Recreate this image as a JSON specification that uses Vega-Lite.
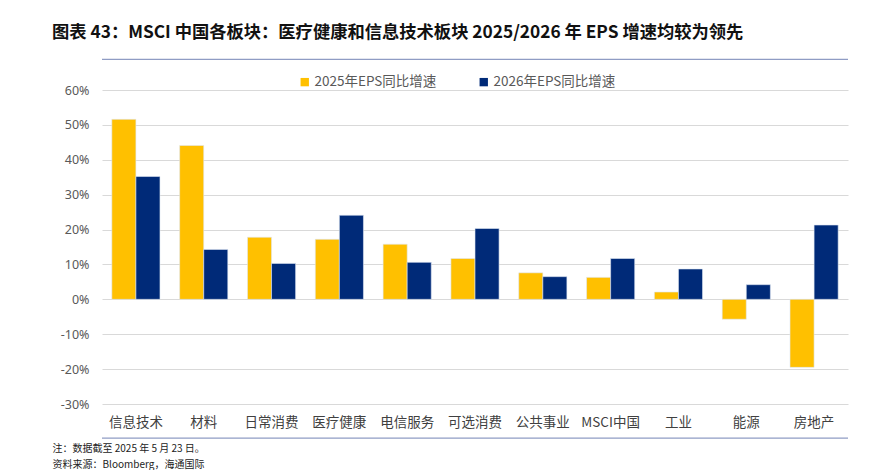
{
  "$schema": "https://vega.github.io/schema/vega-lite/v6.json",
  "width": 746,
  "height": 314,
  "autosize": "none",
  "padding": {"left": 102, "top": 90, "right": 23, "bottom": 66},
  "background": "white",
  "config": {
    "font": "Noto Sans CJK SC",
    "view": {"stroke": null}
  },
  "title": {
    "text": "图表 43：MSCI 中国各板块：医疗健康和信息技术板块 2025/2026 年 EPS 增速均较为领先",
    "anchor": "start",
    "frame": "group",
    "dx": -50,
    "offset": 17,
    "fontSize": 17.3,
    "fontWeight": "bold",
    "color": "#111111",
    "font": "Noto Sans CJK SC"
  },
  "datasets": {
    "eps": [
      {"sector": "信息技术", "series": "2025年EPS同比增速", "value": 0.516},
      {"sector": "信息技术", "series": "2026年EPS同比增速", "value": 0.352},
      {"sector": "材料", "series": "2025年EPS同比增速", "value": 0.441},
      {"sector": "材料", "series": "2026年EPS同比增速", "value": 0.143},
      {"sector": "日常消费", "series": "2025年EPS同比增速", "value": 0.178},
      {"sector": "日常消费", "series": "2026年EPS同比增速", "value": 0.103},
      {"sector": "医疗健康", "series": "2025年EPS同比增速", "value": 0.172},
      {"sector": "医疗健康", "series": "2026年EPS同比增速", "value": 0.241},
      {"sector": "电信服务", "series": "2025年EPS同比增速", "value": 0.158},
      {"sector": "电信服务", "series": "2026年EPS同比增速", "value": 0.106},
      {"sector": "可选消费", "series": "2025年EPS同比增速", "value": 0.117},
      {"sector": "可选消费", "series": "2026年EPS同比增速", "value": 0.203},
      {"sector": "公共事业", "series": "2025年EPS同比增速", "value": 0.076},
      {"sector": "公共事业", "series": "2026年EPS同比增速", "value": 0.065},
      {"sector": "MSCI中国", "series": "2025年EPS同比增速", "value": 0.063},
      {"sector": "MSCI中国", "series": "2026年EPS同比增速", "value": 0.117},
      {"sector": "工业", "series": "2025年EPS同比增速", "value": 0.021},
      {"sector": "工业", "series": "2026年EPS同比增速", "value": 0.087},
      {"sector": "能源", "series": "2025年EPS同比增速", "value": -0.057},
      {"sector": "能源", "series": "2026年EPS同比增速", "value": 0.042},
      {"sector": "房地产", "series": "2025年EPS同比增速", "value": -0.195},
      {"sector": "房地产", "series": "2026年EPS同比增速", "value": 0.213}
    ],
    "lines": [
      {"pos": 0.688},
      {"pos": -0.398}
    ]
  },
  "resolve": {"scale": {"y": "independent"}, "axis": {"y": "independent"}},
  "layer": [
    {
      "data": {"name": "eps"},
      "mark": {"type": "bar", "stroke": "#dfe7f3", "strokeWidth": 0.6},
      "encoding": {
        "x": {
          "field": "sector",
          "type": "nominal",
          "sort": null,
          "scale": {"paddingInner": 0.29, "paddingOuter": 0.145},
          "axis": {
            "title": ["注：数据截至 2025 年 5 月 23 日。", "资料来源：Bloomberg，海通国际"],
            "titleAnchor": "start",
            "titleAlign": "left",
            "titleX": -50,
            "titleY": 39,
            "titleFontSize": 10,
            "titleFontWeight": "normal",
            "titleColor": "#222222",
            "titleLineHeight": 16,
            "labelAngle": 0,
            "labelFontSize": 13.5,
            "labelColor": "#404040",
            "labelPadding": 11,
            "domain": false,
            "ticks": false
          }
        },
        "xOffset": {"field": "series", "type": "nominal", "sort": null},
        "y": {
          "field": "value",
          "type": "quantitative",
          "scale": {"domain": [-0.3, 0.6], "nice": false, "zero": false},
          "axis": {
            "title": null,
            "format": ".0%",
            "labelExpr": "replace(datum.label, '−', '-')",
            "values": [-0.3, -0.2, -0.1, 0, 0.1, 0.2, 0.3, 0.4, 0.5, 0.6],
            "labelOverlap": false,
            "labelFontSize": 12.5,
            "labelColor": "#595959",
            "labelPadding": 13,
            "labelFont": "Noto Sans",
            "domain": false,
            "ticks": false,
            "gridColor": "#d9d9d9",
            "gridWidth": 1
          }
        },
        "color": {
          "field": "series",
          "type": "nominal",
          "sort": null,
          "scale": {"range": ["#ffc000", "#002a78"]},
          "legend": {
            "title": null,
            "orient": "none",
            "direction": "horizontal",
            "legendX": 196,
            "legendY": -15,
            "symbolType": "square",
            "symbolSize": 70,
            "symbolStrokeWidth": 0,
            "labelFontSize": 13.5,
            "labelColor": "#595959",
            "columnPadding": 40,
            "labelOffset": 3
          }
        }
      }
    },
    {
      "data": {"name": "lines"},
      "mark": {"type": "rule", "color": "#8f9cc4", "strokeWidth": 1.2},
      "encoding": {
        "y": {
          "field": "pos",
          "type": "quantitative",
          "scale": {"domain": [-0.3, 0.6], "nice": false, "zero": false},
          "axis": null
        }
      }
    }
  ]
}
